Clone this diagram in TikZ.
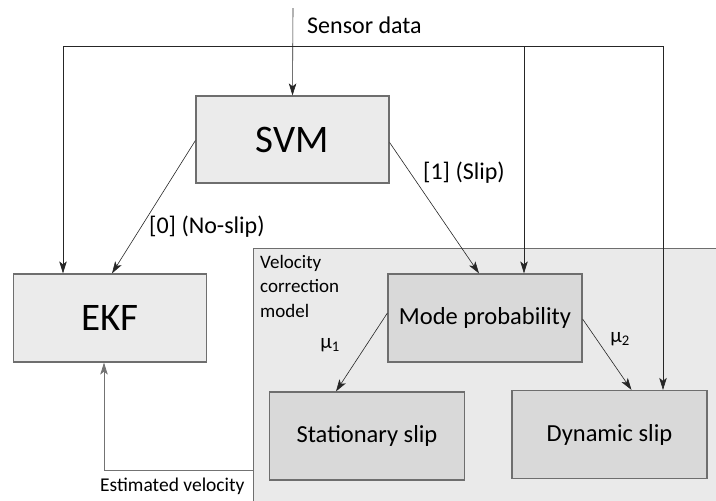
\documentclass[tikz,border=0pt]{standalone}
\usepackage{fontspec}
\setmainfont{Carlito}
\usetikzlibrary{arrows.meta}
\definecolor{boxA}{HTML}{EBEBEB}
\definecolor{boxB}{HTML}{D9D9D9}
\definecolor{regionfill}{HTML}{EAEAEA}
\definecolor{edgegray}{HTML}{6E6E6E}
\begin{document}
\begin{tikzpicture}[x=1pt,y=-1pt,
  topbox/.style={draw=edgegray,line width=1.2pt,fill=boxA,minimum width=193pt,minimum height=87pt,inner sep=0pt,font=\fontsize{39}{44}\selectfont},
  subbox/.style={draw=edgegray,line width=1.2pt,fill=boxB,minimum width=194pt,minimum height=88pt,inner sep=0pt,font=\fontsize{24.5}{28}\selectfont},
  arr/.style={-{Stealth[length=12pt,width=7.5pt,inset=3pt]},line width=0.6pt,draw=black!85},
  plain/.style={line width=0.6pt,draw=black!85},
  lbl/.style={inner sep=0pt,font=\fontsize{24}{28}\selectfont},
  mu/.style={inner sep=0pt,font=\fontsize{21}{24}\selectfont}]
\useasboundingbox (0,0) rectangle (716,501);
% region
\fill[regionfill] (253,248) rectangle (716,501);
\draw[edgegray,line width=1pt] (253,501) -- (253,248) -- (716,248);
\node[anchor=north west,align=left,inner sep=0pt,font=\fontsize{19}{24.5}\selectfont] (vcm) at (260,255) {Velocity\\correction\\model};
% boxes
\node[topbox] (svm) at (292.5,139.5) {SVM};
\node[topbox,minimum height=88pt] (ekf) at (110,318) {EKF};
\node[subbox] (mode) at (485,318) {Mode probability};
\node[subbox,minimum width=195pt] (stat) at (367,436) {Stationary slip};
\node[subbox,minimum width=195pt] (dyn) at (609.5,434.5) {Dynamic slip};
% sensor data
\coordinate (sin) at (293,8);
\draw[arr] (sin) -- (svm.north);
\node[lbl,anchor=west] (sd) at (307,25) {Sensor data};
\coordinate (b1) at (63,46);
\coordinate (b2) at (524,46);
\coordinate (b3) at (663,46);
\draw[plain] (b1) -- (b3);
\draw[arr] (b1) -- (ekf.north -| b1);
\draw[arr] (b2) -- (mode.north -| b2);
\draw[arr] (b3) -- (dyn.north -| b3);
% svm outputs
\draw[arr] ([yshift=-1pt]svm.west) -- ([xshift=2pt]ekf.north);
\draw[arr] ([yshift=-3pt]svm.east) -- ([xshift=-6pt]mode.north);
\node[lbl,anchor=west] (l0) at (149,227) {[0] (No-slip)};
\node[lbl,anchor=west] (l1) at (423,173) {[1] (Slip)};
% mode outputs
\draw[arr] ([yshift=5pt]mode.west) -- ([xshift=-31pt]stat.north);
\draw[arr] ([yshift=-1pt]mode.east) -- ([xshift=22pt]dyn.north);
\node[mu] (mu1) at (330,345) {μ\textsubscript{1}};
\node[mu] (mu2) at (620,339) {μ\textsubscript{2}};
% estimated velocity
\coordinate (ev0) at (253,470);
\coordinate (ev1) at (104,470);
\draw[-{Stealth[length=12pt,width=7.5pt,inset=3pt]},line width=0.8pt,draw=black!55] (ev0) -- (ev1) -- (ekf.south -| ev1);
\node[inner sep=0pt,anchor=west,font=\fontsize{19.5}{23}\selectfont] (evt) at (100,486) {Estimated velocity};
\end{tikzpicture}
\end{document}
